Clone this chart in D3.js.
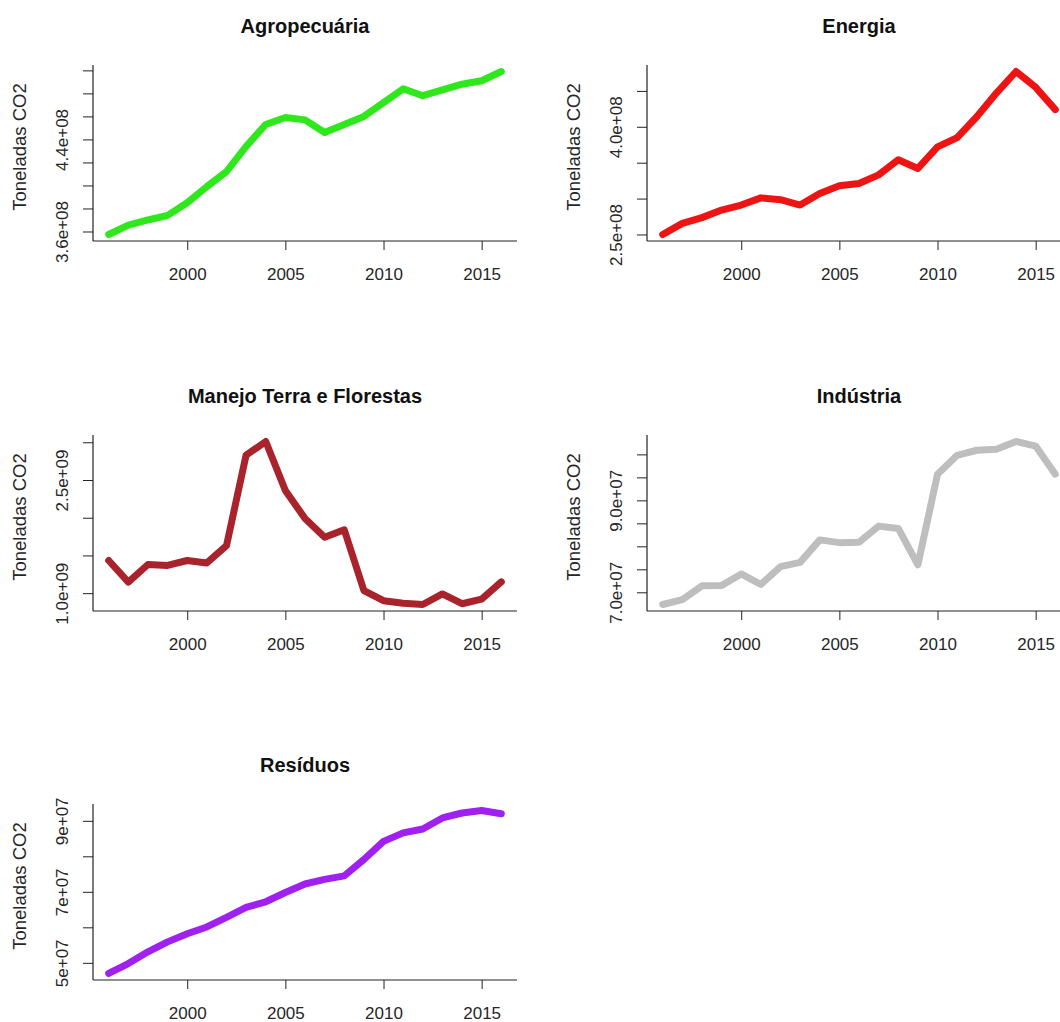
<!DOCTYPE html>
<html>
<head>
<meta charset="utf-8">
<script src="https://cdn.jsdelivr.net/npm/d3@7"></script>
<style>
  html, body { margin: 0; padding: 0; background: #fff; }
  svg { display: block; font-family: "Liberation Sans", Arial, Helvetica, sans-serif; }
</style>
</head>
<body>
<svg id="chart" width="1060" height="1022"></svg>
<script>
// ---- Data ----
const years = [1996, 1997, 1998, 1999, 2000, 2001, 2002, 2003, 2004, 2005, 2006,
               2007, 2008, 2009, 2010, 2011, 2012, 2013, 2014, 2015, 2016];
const xTickValues = [2000, 2005, 2010, 2015];

const titles = ["Agropecuária", "Energia", "Manejo Terra e Florestas", "Indústria", "Resíduos"];
const yAxisTitle = "Toneladas CO2";

const agropecuaria = [3.574e8, 3.655e8, 3.70e8, 3.74e8, 3.85e8, 3.99e8, 4.12e8, 4.34e8, 4.53e8, 4.59e8, 4.57e8,
                      4.46e8, 4.53e8, 4.60e8, 4.72e8, 4.84e8, 4.78e8, 4.83e8, 4.88e8, 4.91e8, 4.99e8];
const energia = [2.50e8, 2.655e8, 2.735e8, 2.84e8, 2.91e8, 3.01e8, 2.985e8, 2.91e8, 3.07e8, 3.18e8, 3.21e8,
                 3.33e8, 3.54e8, 3.42e8, 3.72e8, 3.85e8, 4.14e8, 4.47e8, 4.77e8, 4.55e8, 4.24e8];
const manejo = [1.433e9, 1.146e9, 1.38e9, 1.367e9, 1.433e9, 1.40e9, 1.63e9, 2.83e9, 3.01e9, 2.36e9, 1.99e9,
                1.74e9, 1.84e9, 1.035e9, 0.90e9, 0.867e9, 0.85e9, 0.99e9, 0.86e9, 0.92e9, 1.15e9];
const industria = [6.735e7, 6.84e7, 7.14e7, 7.15e7, 7.40e7, 7.17e7, 7.56e7, 7.65e7, 8.14e7, 8.08e7, 8.09e7,
                   8.44e7, 8.39e7, 7.60e7, 9.57e7, 9.98e7, 10.09e7, 10.11e7, 10.28e7, 10.18e7, 9.57e7];
const residuos = [4.70e7, 4.98e7, 5.31e7, 5.59e7, 5.82e7, 6.01e7, 6.28e7, 6.56e7, 6.72e7, 6.98e7, 7.22e7,
                  7.35e7, 7.45e7, 7.91e7, 8.42e7, 8.66e7, 8.77e7, 9.08e7, 9.22e7, 9.29e7, 9.20e7];

const agroTicks = [3.6e8, 3.8e8, 4.0e8, 4.2e8, 4.4e8, 4.6e8, 4.8e8, 5.0e8];
const agroTickLabels = ["3.6e+08", "", "", "", "4.4e+08", "", "", ""];
const energiaTicks = [2.5e8, 3.0e8, 3.5e8, 4.0e8, 4.5e8];
const energiaTickLabels = ["2.5e+08", "", "", "4.0e+08", ""];
const manejoTicks = [1.0e9, 1.5e9, 2.0e9, 2.5e9, 3.0e9];
const manejoTickLabels = ["1.0e+09", "", "", "2.5e+09", ""];
const industriaTicks = [7.0e7, 7.5e7, 8.0e7, 8.5e7, 9.0e7, 9.5e7, 10.0e7];
const industriaTickLabels = ["7.0e+07", "", "", "", "9.0e+07", "", ""];
const residuosTicks = [5e7, 6e7, 7e7, 8e7, 9e7];
const residuosTickLabels = ["5e+07", "", "7e+07", "", "9e+07"];

const seriesValues = [agropecuaria, energia, manejo, industria, residuos];
const seriesTicks = [agroTicks, energiaTicks, manejoTicks, industriaTicks, residuosTicks];
const seriesTickLabels = [agroTickLabels, energiaTickLabels, manejoTickLabels, industriaTickLabels, residuosTickLabels];

// ---- Styles / layout ----
const colors = ["#2ee81c", "#ee1414", "#a8232b", "#bebebe", "#a020f0"];
const colLeft = [93, 647];
const plotW = 424;
const rowTop = [65, 435, 804];
const plotH = 176;
const fontTick = 17;
const fontTitle = 20;
const fontAxisTitle = 18.5;
const textColor = "#262626";

const svg = d3.select("#chart");

seriesValues.forEach((vals, i) => {
  const col = i % 2, row = Math.floor(i / 2);
  const x0 = colLeft[col], y0 = rowTop[row];
  const x1 = x0 + plotW, y1 = y0 + plotH;

  const yr = d3.extent(years);
  const xPad = (yr[1] - yr[0]) * 0.04;
  const x = d3.scaleLinear().domain([yr[0] - xPad, yr[1] + xPad]).range([x0, x1]);
  const ext = d3.extent(vals);
  const yPad = (ext[1] - ext[0]) * 0.04;
  const y = d3.scaleLinear().domain([ext[0] - yPad, ext[1] + yPad]).range([y1, y0]);

  const g = svg.append("g");

  // Title
  g.append("text")
    .attr("x", (x0 + x1) / 2)
    .attr("y", y0 - 39)
    .attr("dy", "0.35em")
    .attr("text-anchor", "middle")
    .attr("font-weight", "bold")
    .attr("font-size", fontTitle)
    .attr("fill", "#111")
    .text(titles[i]);

  // X axis (bottom)
  const xAxis = d3.axisBottom(x).tickValues(xTickValues).tickFormat(d3.format("d"))
    .tickSize(9).tickSizeOuter(0).tickPadding(0);
  const gx = g.append("g").attr("transform", `translate(0,${y1})`).call(xAxis);
  gx.select(".domain").remove();
  gx.selectAll(".tick line").attr("stroke", "#222");
  gx.selectAll(".tick text").attr("font-size", fontTick).attr("fill", textColor)
    .attr("font-family", "'Liberation Sans', Arial, sans-serif")
    .attr("y", 33.5).attr("dy", "0.35em");
  g.append("line").attr("x1", x0).attr("x2", x1).attr("y1", y1).attr("y2", y1)
    .attr("stroke", "#222").attr("stroke-width", 1.2);

  // Y axis (left)
  const labels = seriesTickLabels[i];
  const ticks = seriesTicks[i];
  const yAxis = d3.axisLeft(y).tickValues(ticks)
    .tickFormat((d, k) => labels[k]).tickSize(10).tickSizeOuter(0);
  const gy = g.append("g").attr("transform", `translate(${x0},0)`).call(yAxis);
  gy.select(".domain").remove();
  gy.selectAll(".tick line").attr("stroke", "#222");
  gy.selectAll(".tick text")
    .attr("font-size", fontTick).attr("fill", textColor)
    .attr("font-family", "'Liberation Sans', Arial, sans-serif")
    .attr("text-anchor", "middle")
    .attr("x", null)
    .attr("transform", "translate(-31,0) rotate(-90)")
    .attr("y", 0)
    .attr("dy", "0.35em");
  g.append("line").attr("x1", x0).attr("x2", x0).attr("y1", y0).attr("y2", y1)
    .attr("stroke", "#222").attr("stroke-width", 1.2);

  // Y axis title
  g.append("text")
    .attr("transform", `translate(${x0 - 73},${(y0 + y1) / 2 - 6}) rotate(-90)`)
    .attr("dy", "0.35em")
    .attr("text-anchor", "middle")
    .attr("font-size", fontAxisTitle)
    .attr("fill", textColor)
    .text(yAxisTitle);

  // Line
  const line = d3.line().x((d, k) => x(years[k])).y(d => y(d));
  g.append("path")
    .datum(vals)
    .attr("d", line)
    .attr("fill", "none")
    .attr("stroke", colors[i])
    .attr("stroke-width", 7)
    .attr("stroke-linejoin", "round")
    .attr("stroke-linecap", "round");
});
</script>
</body>
</html>
